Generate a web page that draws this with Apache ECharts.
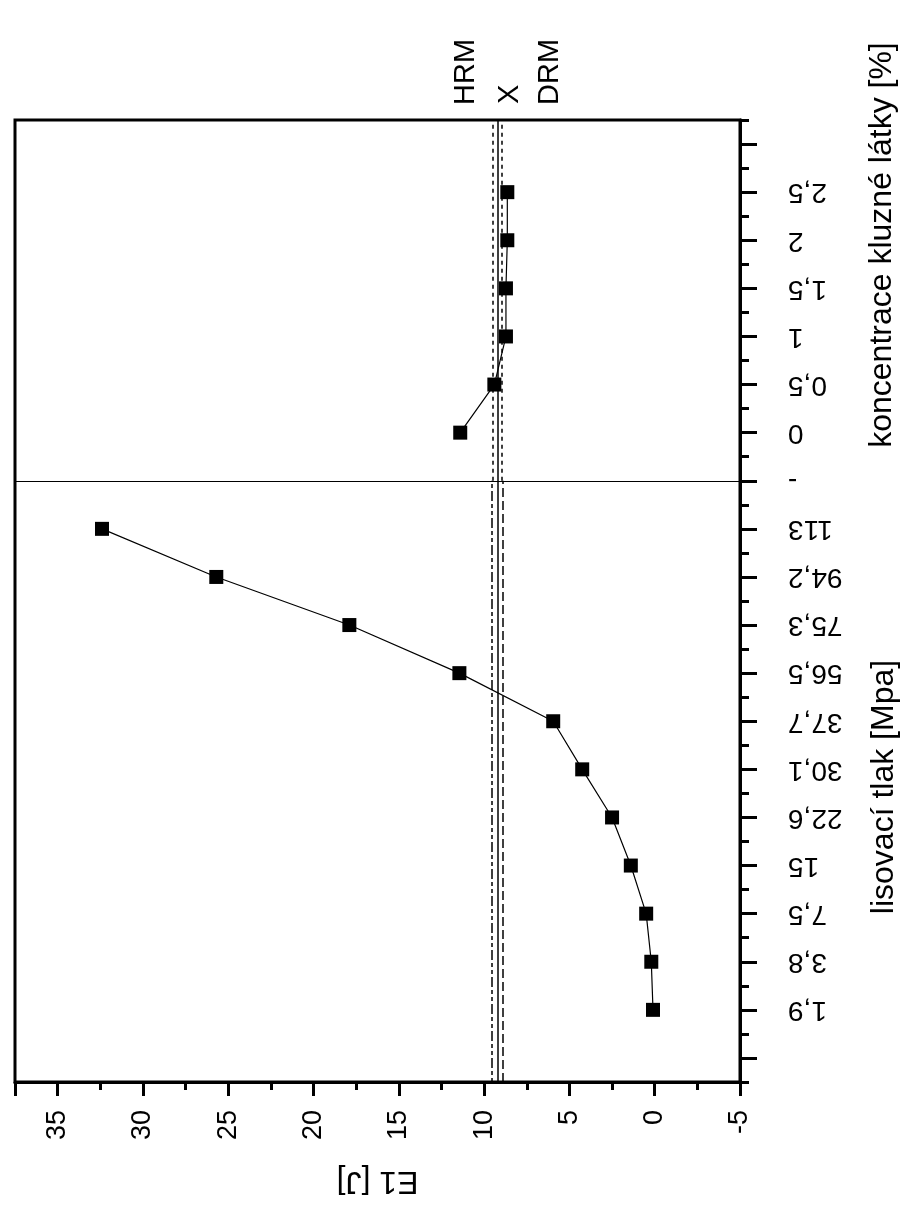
<!DOCTYPE html>
<html>
<head>
<meta charset="utf-8">
<script src="https://cdn.jsdelivr.net/npm/echarts@6/dist/echarts.min.js"></script>
<style>
html,body{margin:0;padding:0;background:#fff;}
#chart{width:909px;height:1205px;}
</style>
</head>
<body>
<div id="chart"></div>
<script>
// ---- data ----
const pressureLabels = ['1,9', '3,8', '7,5', '15', '22,6', '30,1', '37,7', '56,5', '75,3', '94,2', '113'];
const pressureE1 = [0.1, 0.2, 0.5, 1.4, 2.5, 4.25, 5.95, 11.45, 17.9, 25.7, 32.4];
const separatorLabel = '-';
const concLabels = ['0', '0,5', '1', '1,5', '2', '2,5'];
const concE1 = [11.4, 9.4, 8.72, 8.72, 8.64, 8.64];
// reference lines: [pressure section, concentration section]
const hrmValues = [9.57, 9.47];
const drmValues = [8.88, 8.99];
const meanX = 9.22;
const refNames = ['HRM', 'X', 'DRM'];
const valueTicks = [-5, 0, 5, 10, 15, 20, 25, 30, 35];
const xName = 'E1 [J]';
const pressureTitle = 'lisovací tlak [Mpa]';
const concTitle = 'koncentrace kluzné látky [%]';

// category slots along the vertical axis (blank slots at both ends)
const slotLabels = [''].concat(pressureLabels, [separatorLabel], concLabels, ['']);
const pStart = 1;
const sepIdx = pressureLabels.length + 1;
const cStart = sepIdx + 1;
const yMin = -0.5, yMax = slotLabels.length - 0.5;

const pressureData = pressureE1.map((v, i) => [v, pStart + i]);
const concData = concE1.map((v, i) => [v, cStart + i]);

const FONT = 'Liberation Sans, Arial, sans-serif';

const chart = echarts.init(document.getElementById('chart'));

function seg(x, y0, y1, type, width) {
  return [
    { coord: [x, y0], lineStyle: { type: type, width: width, color: '#000' } },
    { coord: [x, y1] }
  ];
}

chart.setOption({
  backgroundColor: '#fff',
  animation: false,
  grid: {
    left: 15, right: 169, top: 120, bottom: 123,
    show: true, borderColor: '#000', borderWidth: 3,
    outerBoundsMode: 'none'
  },
  xAxis: {
    type: 'value',
    inverse: true,
    min: -5, max: 37.5, interval: 5,
    axisLine: { show: true, onZero: false, lineStyle: { color: '#000', width: 3 } },
    axisTick: { show: true, length: 14, lineStyle: { color: '#000', width: 3 } },
    minorTick: { show: true, splitNumber: 2, length: 8, lineStyle: { color: '#000', width: 3 } },
    splitLine: { show: false },
    axisLabel: {
      rotate: 90, margin: 28, fontSize: 27, color: '#000', fontFamily: FONT,
      formatter: v => (valueTicks.indexOf(v) >= 0 ? String(v) : '')
    },
    name: xName, nameLocation: 'middle', nameRotate: 180, nameGap: 83,
    nameTextStyle: { fontSize: 32, color: '#000', fontFamily: FONT }
  },
  yAxis: [
    {
      type: 'value', position: 'right',
      min: yMin, max: yMax, interval: 1,
      axisLine: { show: true, onZero: false, lineStyle: { color: '#000', width: 3 } },
      axisTick: { show: true, inside: false, length: 9, lineStyle: { color: '#000', width: 3 } },
      minorTick: { show: true, splitNumber: 2, length: 17, lineStyle: { color: '#000', width: 3 } },
      axisLabel: { show: false },
      splitLine: { show: false }
    },
    {
      type: 'value', position: 'right',
      min: yMin, max: yMax, interval: 0.5,
      axisLine: { show: false, onZero: false },
      axisTick: { show: false },
      splitLine: { show: false },
      axisLabel: {
        rotate: 180, margin: 48, fontSize: 28, color: '#000', fontFamily: FONT,
        formatter: v => (Number.isInteger(v) && v >= 0 && v < slotLabels.length ? slotLabels[v] : '')
      }
    }
  ],
  series: [
    {
      type: 'line', yAxisIndex: 0,
      data: pressureData,
      symbol: 'rect', symbolSize: 14,
      itemStyle: { color: '#000' },
      lineStyle: { color: '#000', width: 1.2 },
      markLine: {
        silent: true, symbol: ['none', 'none'], label: { show: false },
        data: [
          [{ coord: [37.5, sepIdx], lineStyle: { type: 'solid', width: 1.2, color: '#000' } }, { coord: [-5, sepIdx] }],
          seg(hrmValues[0], yMin, sepIdx, [4, 3, 4, 3, 10, 3], 1.5),
          seg(meanX, yMin, yMax, 'solid', 1.5),
          seg(drmValues[0], yMin, sepIdx, [9, 4], 1.5),
          seg(hrmValues[1], sepIdx, yMax, [4, 4], 1.5),
          seg(drmValues[1], sepIdx, yMax, [4, 4], 1.5)
        ]
      }
    },
    {
      type: 'line', yAxisIndex: 0,
      data: concData,
      symbol: 'rect', symbolSize: 14,
      itemStyle: { color: '#000' },
      lineStyle: { color: '#000', width: 1.2 }
    }
  ],
  graphic: [
    { type: 'text', x: 466, y: 105, rotation: Math.PI / 2,
      style: { text: refNames[0], font: '29px ' + FONT, fill: '#000', textAlign: 'left', textVerticalAlign: 'middle', verticalAlign: 'middle' } },
    { type: 'text', x: 510, y: 104, rotation: Math.PI / 2,
      style: { text: refNames[1], font: '29px ' + FONT, fill: '#000', textAlign: 'left', textVerticalAlign: 'middle', verticalAlign: 'middle' } },
    { type: 'text', x: 550, y: 105, rotation: Math.PI / 2,
      style: { text: refNames[2], font: '29px ' + FONT, fill: '#000', textAlign: 'left', textVerticalAlign: 'middle', verticalAlign: 'middle' } },
    { type: 'text', x: 884, y: 787, rotation: Math.PI / 2,
      style: { text: pressureTitle, font: '32px ' + FONT, fill: '#000', textAlign: 'center', textVerticalAlign: 'middle', verticalAlign: 'middle' } },
    { type: 'text', x: 882, y: 245, rotation: Math.PI / 2,
      style: { text: concTitle, font: '32px ' + FONT, fill: '#000', textAlign: 'center', textVerticalAlign: 'middle', verticalAlign: 'middle' } }
  ]
});
</script>
</body>
</html>
